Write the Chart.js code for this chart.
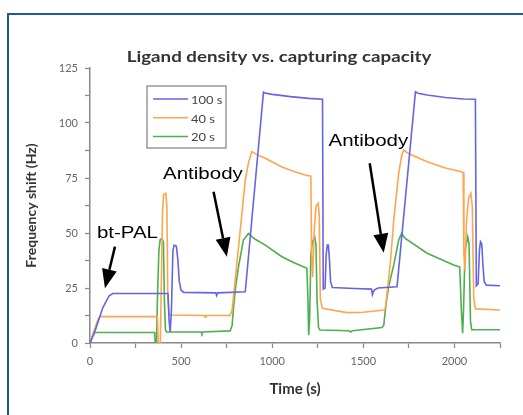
<!DOCTYPE html>
<html>
<head>
<meta charset="utf-8">
<script src="https://cdn.jsdelivr.net/npm/chart.js@4.4.1/dist/chart.umd.min.js"></script>
<style>
  html, body { margin: 0; padding: 0; background: #fff; overflow: hidden; }
  .wrap { position: relative; width: 523px; height: 415px; }
  .frame { position: absolute; left: 7px; top: 13px; width: 600px; height: 500px; border: 2px solid #1d5a98; }
  canvas { position: absolute; left: 0; top: 0; }
</style>
</head>
<body>
<div class="wrap">
  <div class="frame"></div>
  <canvas id="chart" width="523" height="415"></canvas>
</div>
<script>
const chartTitle = 'Ligand density vs. capturing capacity';
const xTitle = 'Time (s)';
const yTitle = 'Frequency shift (Hz)';
const seriesLabels = ['100 s', '40 s', '20 s'];
const xTickLabels = [0, 500, 1000, 1500, 2000];
const yTickLabels = [0, 25, 50, 75, 100, 125];

// 100 s
const time100 = [0, 30, 70, 105, 125, 428, 434, 440, 447, 455, 462, 474, 482, 490, 500, 515, 690, 695, 700, 852,
  952, 960, 1000, 1100, 1200, 1276, 1280, 1290, 1296, 1302, 1308, 1314, 1320, 1330, 1450, 1545, 1550, 1556, 1562, 1580,
  1685, 1786, 1800, 1850, 1950, 2050, 2115, 2120, 2130, 2137, 2143, 2150, 2156, 2163, 2175, 2250];
const shift100 = [0, 6, 16, 21.5, 22.5, 22.5, 10, 5, 15, 42, 44.5, 44, 38, 28, 24, 23, 22.8, 21.6, 22.8, 23.3,
  114, 113.6, 113, 112, 111.2, 110.8, 24.5, 25, 40, 44.5, 44.5, 38, 28, 25.2, 24.8, 24.5, 22, 23.5, 24.2, 25,
  25.6, 114.2, 113.5, 112.7, 111.6, 110.9, 110.8, 26, 27, 42, 46, 45, 36, 28, 26.3, 26];

// 40 s
const time40 = [0, 20, 45, 55, 370, 375, 386, 392, 398, 404, 416, 422, 427, 435, 628, 632, 636, 769,
  780, 797, 824, 852, 870, 888, 920, 962, 1053, 1120, 1181, 1212, 1216, 1222, 1230, 1240, 1252, 1258, 1264, 1275,
  1410, 1500, 1612, 1621, 1648, 1667, 1694, 1710, 1721, 1750, 1850, 1950, 2033, 2048, 2052, 2058, 2066, 2078, 2090,
  2098, 2106, 2115, 2250];
const shift40 = [0, 5, 11, 12, 12, 0, 0, 30, 60, 67.5, 68, 62, 20, 12.7, 12.5, 11.7, 12.5, 12.5,
  15, 28.6, 51, 74, 82, 87, 85.5, 84, 80, 78, 76.4, 75.8, 40, 30, 50, 62, 63.5, 58, 20, 15.8,
  13.8, 14, 15, 15.5, 36.2, 56, 77, 85, 87.7, 86, 82.4, 79.5, 78, 77.5, 40, 33, 55, 66, 68,
  62, 20, 15.5, 15];

// 20 s
const time20 = [0, 15, 27, 355, 358, 365, 370, 378, 385, 395, 403, 408, 414, 420, 610, 614, 618, 769,
  780, 788, 800, 815, 842, 870, 900, 962, 1053, 1120, 1190, 1196, 1200, 1205, 1212, 1220, 1233, 1240, 1246, 1254, 1262,
  1420, 1430, 1440, 1603, 1612, 1625, 1639, 1667, 1694, 1710, 1730, 1850, 1996, 2029, 2038, 2045, 2050, 2058, 2073,
  2080, 2088, 2095, 2250];
const shift20 = [0, 3, 4.8, 4.8, 0, 0, 20, 42, 47, 47.6, 46, 20, 6, 5, 5, 4.3, 5, 5.5,
  8, 16.5, 26, 34.7, 46.8, 49.8, 47.5, 44.5, 39.2, 36.5, 34, 20, 3.6, 10, 40, 46, 48.3, 45, 20, 7, 5.9,
  5.6, 5, 5.6, 7, 8, 18, 25.6, 35.5, 46.8, 49.8, 47.5, 40.8, 35.5, 34.5, 15, 4.4, 15, 42, 48.3,
  45, 10, 6, 6];

const seriesColors = ['#6464e6', '#ffa54f', '#4cb050'];

// text + arrow annotations, placed in data units
const notes = [
  { text: 'bt-PAL', t: 38, y: 47.7, from: [137, 43.8], to: [82, 24.9] },
  { text: 'Antibody', t: 401, y: 74.5, from: [678, 68.8], to: [751, 39.2] },
  { text: 'Antibody', t: 1309, y: 89.5, from: [1535, 81.7], to: [1612, 41] }
];

function toPoints(ts, ys) {
  return ts.map((t, i) => ({x: t, y: ys[i]}));
}

function drawArrow(ctx, x1, y1, x2, y2) {
  const ang = Math.atan2(y2 - y1, x2 - x1);
  const head = 19, half = 7.5;
  const bx = x2 - head * Math.cos(ang), by = y2 - head * Math.sin(ang);
  ctx.beginPath();
  ctx.moveTo(x1, y1);
  ctx.lineTo(bx, by);
  ctx.lineWidth = 2.5;
  ctx.strokeStyle = '#000';
  ctx.stroke();
  ctx.beginPath();
  ctx.moveTo(x2, y2);
  ctx.lineTo(bx + half * Math.sin(ang), by - half * Math.cos(ang));
  ctx.lineTo(bx - half * Math.sin(ang), by + half * Math.cos(ang));
  ctx.closePath();
  ctx.fillStyle = '#000';
  ctx.fill();
}

// draws text stretched horizontally like the source figure
function wideText(ctx, text, px, py, sx) {
  ctx.save();
  ctx.translate(px, py);
  ctx.scale(sx, 1);
  ctx.fillText(text, 0, 0);
  ctx.restore();
}

const overlay = {
  id: 'overlay',
  afterDraw(chart) {
    const {ctx, chartArea} = chart;
    const x = chart.scales.x, y = chart.scales.y;
    ctx.save();

    // title
    ctx.fillStyle = '#333';
    ctx.font = 'bold 16px Lato';
    ctx.textAlign = 'center';
    ctx.textBaseline = 'alphabetic';
    wideText(ctx, chartTitle, (chartArea.left + chartArea.right) / 2 - 16, 62, 1.17);

    // legend box
    const lx = chartArea.left + 57, ly = chartArea.top + 18;
    ctx.strokeStyle = '#999';
    ctx.lineWidth = 1.5;
    ctx.strokeRect(lx, ly, 79, 62);
    ctx.font = '12px Lato';
    ctx.textAlign = 'left';
    ctx.textBaseline = 'middle';
    chart.data.datasets.forEach((ds, i) => {
      const ry = ly + 13 + i * 18.7;
      ctx.beginPath();
      ctx.moveTo(lx + 6, ry);
      ctx.lineTo(lx + 41, ry);
      ctx.strokeStyle = ds.borderColor;
      ctx.lineWidth = 1.5;
      ctx.stroke();
      ctx.fillStyle = '#444';
      wideText(ctx, ds.label, lx + 44, ry + 1, 1.08);
    });

    // annotations
    notes.forEach(n => {
      ctx.font = '16px "Liberation Sans"';
      ctx.fillStyle = '#000';
      ctx.textAlign = 'left';
      ctx.textBaseline = 'alphabetic';
      wideText(ctx, n.text, x.getPixelForValue(n.t), y.getPixelForValue(n.y), 1.28);
      drawArrow(ctx,
        x.getPixelForValue(n.from[0]), y.getPixelForValue(n.from[1]),
        x.getPixelForValue(n.to[0]), y.getPixelForValue(n.to[1]));
    });
    ctx.restore();
  }
};

const seriesData = [toPoints(time100, shift100), toPoints(time40, shift40), toPoints(time20, shift20)];

new Chart(document.getElementById('chart').getContext('2d'), {
  type: 'line',
  data: {
    datasets: seriesData.map((pts, i) => ({
      label: seriesLabels[i],
      data: pts,
      borderColor: seriesColors[i],
      backgroundColor: seriesColors[i],
      borderWidth: 1.6,
      pointRadius: 0,
      tension: 0,
      fill: false
    }))
  },
  options: {
    responsive: false,
    animation: false,
    devicePixelRatio: 1,
    layout: { padding: { left: 0, top: 68, right: 23, bottom: 12 } },
    plugins: {
      legend: { display: false },
      title: { display: false },
      tooltip: { enabled: false }
    },
    scales: {
      x: {
        type: 'linear',
        min: 0,
        max: 2250,
        afterFit: s => { s.height = 60; },
        ticks: {
          stepSize: 250,
          color: '#666',
          padding: 7,
          font: { size: 11, family: 'Lato' },
          callback: v => xTickLabels.includes(v) ? String(v) : ''
        },
        grid: { drawOnChartArea: false, tickLength: 5, tickColor: '#888', tickWidth: 1.2 },
        border: { color: '#888', width: 1.5 },
        title: {
          display: true,
          text: xTitle,
          color: '#333',
          font: { size: 15, weight: 'bold', family: 'Lato' },
          padding: { top: 0, bottom: 5 }
        }
      },
      y: {
        min: 0,
        max: 125,
        afterFit: s => { s.width = 90; },
        ticks: {
          stepSize: 12.5,
          color: '#666',
          padding: 7,
          font: { size: 11, family: 'Lato' },
          callback: v => yTickLabels.includes(v) ? String(v) : ''
        },
        grid: { drawOnChartArea: false, tickLength: 5, tickColor: '#888', tickWidth: 1.2 },
        border: { color: '#888', width: 1.5 },
        title: {
          display: true,
          text: yTitle,
          color: '#333',
          font: { size: 14, weight: 'bold', family: 'Lato' },
          padding: { top: 23, bottom: 0 }
        }
      }
    }
  },
  plugins: [overlay]
});
</script>
</body>
</html>
